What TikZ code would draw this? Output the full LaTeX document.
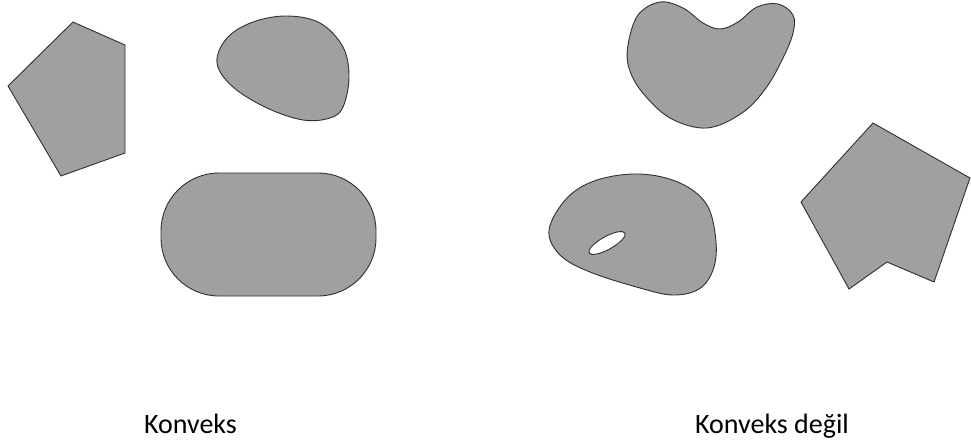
\documentclass[tikz,border=0pt]{standalone}
\usepackage{fontspec}
\setmainfont{Carlito}
\definecolor{shapegray}{HTML}{A0A0A0}
\definecolor{edgegray}{HTML}{303030}
\begin{document}
\begin{tikzpicture}[x=1pt,y=-1pt,
  figshape/.style={fill=shapegray,draw=edgegray,line width=0.9pt,line join=round},
  holeshape/.style={fill=white,draw=edgegray,line width=0.9pt},
  lbl/.style={anchor=base,inner sep=0pt,font=\fontsize{28}{32}\selectfont}]
\useasboundingbox (0,0) rectangle (971,445);
% convex pentagon
\draw[figshape] (73,22) -- (125,45) -- (125,153) -- (61,176) -- (8,86) -- cycle;
% convex blob
\draw[figshape] plot[smooth cycle,tension=0.6] coordinates {(287,16) (320,23) (343,47) (349,77) (343,107) (330,118) (303,120) (267,108) (233,87) (217,63) (227,38) (253,22)};
% stadium
\draw[figshape,rounded corners=58pt] (161,173) rectangle (376,296);
% kidney
\draw[figshape] plot[smooth cycle,tension=0.6] coordinates {(628,45) (638,15) (660,2) (683,8) (703,23) (720,29) (738,22) (757,7) (778,4) (793,15) (793,33) (783,58) (766,88) (742,113) (707,128) (670,118) (642,92) (629,68)};
% blob with hole
\draw[figshape] plot[smooth cycle,tension=0.6] coordinates {(549,230) (567,198) (597,180) (640,174) (680,183) (707,205) (716,242) (713,270) (699,289) (673,295) (640,288) (590,272) (560,255)};
\draw[holeshape,rotate around={29:(607,243)}] (607,243) ellipse [x radius=20.5pt,y radius=6.5pt];
% non-convex pentagon
\draw[figshape] (873,123) -- (970,178) -- (934,282) -- (887,262) -- (849,289) -- (801,202) -- cycle;
% labels
\node[lbl] (l1) at (190.5,433) {Konveks};
\node[lbl] (l2) at (772,433) {Konveks değil};
\end{tikzpicture}
\end{document}
